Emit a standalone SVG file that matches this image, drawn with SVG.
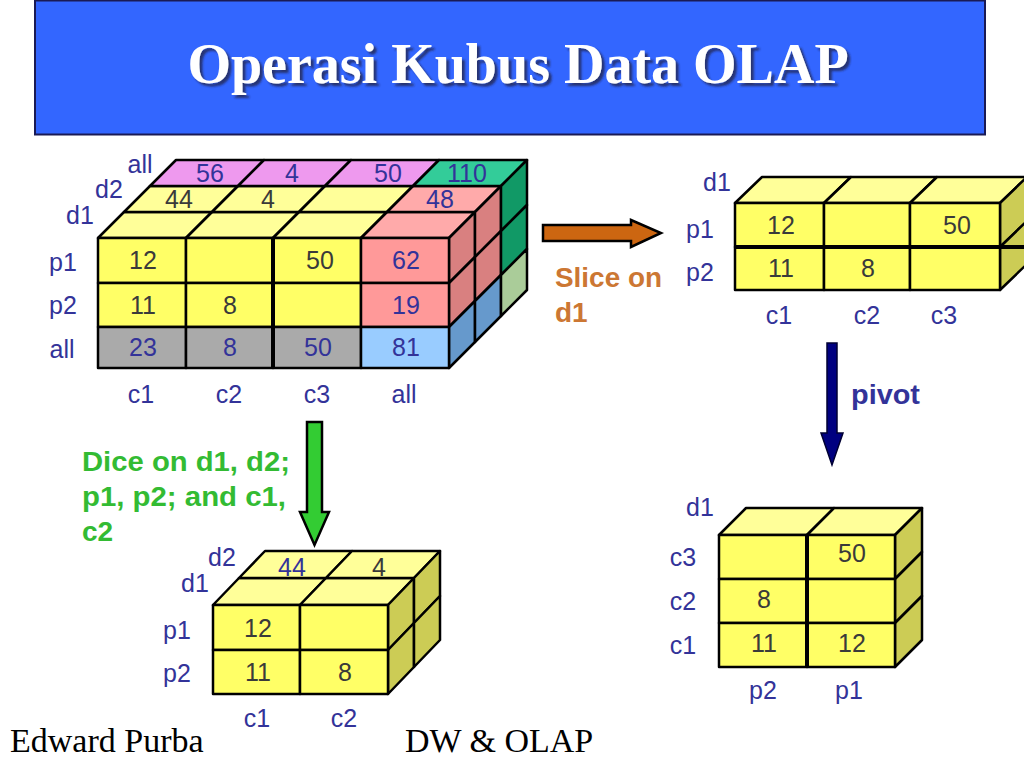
<svg xmlns="http://www.w3.org/2000/svg" width="1024" height="768" viewBox="0 0 1024 768">
<defs>
<filter id="sh" x="-5%" y="-20%" width="110%" height="150%">
<feDropShadow dx="3" dy="3" stdDeviation="1" flood-color="#222244" flood-opacity="0.75"/>
</filter>
</defs>
<style>
.f{stroke:#000;stroke-width:2.5;stroke-linejoin:round}
.y{fill:#FFFF66}.yt{fill:#FFFF99}.ys{fill:#CCCC55}
.sa{fill:#FF9999}.sat{fill:#FFAAAA}.sas{fill:#D98080}
.pk{fill:#EE99EE}.tl{fill:#33CC99}.tls{fill:#119966}
.gr{fill:#AAAAAA}.bl{fill:#99CCFF}.bls{fill:#6699CC}.lg{fill:#AACC99}
.lbl{font-family:"Liberation Sans",Arial,sans-serif;font-size:25px;fill:#333399;text-anchor:middle}
.num{font-family:"Liberation Sans",Arial,sans-serif;font-size:25px;fill:#3a3a3a;text-anchor:middle}
.nb{fill:#333399}
.op{font-family:"Liberation Sans",Arial,sans-serif;font-size:28px;font-weight:bold}
.ft{font-family:"Liberation Serif","Times New Roman",serif;font-size:34px;fill:#000}
</style>
<rect width="1024" height="768" fill="#FFFFFF"/>
<g id="title">
<rect x="35" y="0.5" width="950" height="134" fill="#3366FF" stroke="#1a1a55" stroke-width="2"/>
<text x="518" y="83" font-family="Liberation Serif,'Times New Roman',serif" font-size="56" font-weight="bold" fill="#FFFFFF" text-anchor="middle" filter="url(#sh)">Operasi Kubus Data OLAP</text>
</g>
<g id="cube-main">
<polygon class="f yt" points="98,238 186,238 212,212 124,212"/>
<polygon class="f yt" points="186,238 273,238 299,212 212,212"/>
<polygon class="f yt" points="273,238 361,238 387,212 299,212"/>
<polygon class="f sat" points="361,238 449,238 475,212 387,212"/>
<polygon class="f yt" points="124,212 212,212 238,186 150,186"/>
<polygon class="f yt" points="212,212 299,212 325,186 238,186"/>
<polygon class="f yt" points="299,212 387,212 413,186 325,186"/>
<polygon class="f sat" points="387,212 475,212 501,186 413,186"/>
<polygon class="f pk" points="150,186 238,186 264,160 176,160"/>
<polygon class="f pk" points="238,186 325,186 351,160 264,160"/>
<polygon class="f pk" points="325,186 413,186 439,160 351,160"/>
<polygon class="f tl" points="413,186 501,186 527,160 439,160"/>
<polygon class="f sas" points="449,238 475,212 475,257 449,283"/>
<polygon class="f sas" points="449,283 475,257 475,301 449,327"/>
<polygon class="f bls" points="449,327 475,301 475,342 449,368"/>
<polygon class="f sas" points="475,212 501,186 501,231 475,257"/>
<polygon class="f sas" points="475,257 501,231 501,275 475,301"/>
<polygon class="f bls" points="475,301 501,275 501,316 475,342"/>
<polygon class="f tls" points="501,186 527,160 527,205 501,231"/>
<polygon class="f tls" points="501,231 527,205 527,249 501,275"/>
<polygon class="f lg" points="501,275 527,249 527,290 501,316"/>
<rect class="f y" x="98" y="238" width="88" height="45"/>
<rect class="f y" x="186" y="238" width="87" height="45"/>
<rect class="f y" x="273" y="238" width="88" height="45"/>
<rect class="f sa" x="361" y="238" width="88" height="45"/>
<rect class="f y" x="98" y="283" width="88" height="44"/>
<rect class="f y" x="186" y="283" width="87" height="44"/>
<rect class="f y" x="273" y="283" width="88" height="44"/>
<rect class="f sa" x="361" y="283" width="88" height="44"/>
<rect class="f gr" x="98" y="327" width="88" height="41"/>
<rect class="f gr" x="186" y="327" width="87" height="41"/>
<rect class="f gr" x="273" y="327" width="88" height="41"/>
<rect class="f bl" x="361" y="327" width="88" height="41"/>
<line x1="273" y1="238" x2="273" y2="368" stroke="#000" stroke-width="4"/>
<text class="num" x="179" y="208">44</text>
<text class="num" x="268" y="208">4</text>
<text class="num nb" x="440" y="208">48</text>
<text class="num nb" x="210" y="182">56</text>
<text class="num nb" x="292" y="182">4</text>
<text class="num nb" x="388" y="182">50</text>
<text class="num nb" x="467" y="182">110</text>
<text class="num" x="143" y="269">12</text>
<text class="num" x="320" y="269">50</text>
<text class="num nb" x="406" y="269">62</text>
<text class="num" x="143" y="314">11</text>
<text class="num" x="230" y="314">8</text>
<text class="num nb" x="406" y="314">19</text>
<text class="num nb" x="143" y="356">23</text>
<text class="num nb" x="230" y="356">8</text>
<text class="num nb" x="318" y="356">50</text>
<text class="num nb" x="406" y="356">81</text>
<text class="lbl" x="140" y="173">all</text>
<text class="lbl" x="109" y="198">d2</text>
<text class="lbl" x="80" y="224">d1</text>
<text class="lbl" x="63" y="271">p1</text>
<text class="lbl" x="63" y="314">p2</text>
<text class="lbl" x="62" y="358">all</text>
<text class="lbl" x="141" y="403">c1</text>
<text class="lbl" x="229" y="403">c2</text>
<text class="lbl" x="317" y="403">c3</text>
<text class="lbl" x="404" y="403">all</text>
</g>
<g id="cube-slice">
<polygon class="f yt" points="735,203 824,203 851,177 762,177"/>
<polygon class="f yt" points="824,203 910,203 937,177 851,177"/>
<polygon class="f yt" points="910,203 1000,203 1027,177 937,177"/>
<polygon class="f ys" points="1000,203 1027,177 1027,221 1000,247"/>
<polygon class="f ys" points="1000,247 1027,221 1027,264 1000,290"/>
<rect class="f y" x="735" y="203" width="89" height="44"/>
<rect class="f y" x="824" y="203" width="86" height="44"/>
<rect class="f y" x="910" y="203" width="90" height="44"/>
<rect class="f y" x="735" y="247" width="89" height="43"/>
<rect class="f y" x="824" y="247" width="86" height="43"/>
<rect class="f y" x="910" y="247" width="90" height="43"/>
<line x1="735" y1="247" x2="1027" y2="247" stroke="#000" stroke-width="4"/>
<text class="num" x="781" y="234">12</text>
<text class="num" x="957" y="234">50</text>
<text class="num" x="781" y="277">11</text>
<text class="num" x="868" y="277">8</text>
<text class="lbl" x="717" y="191">d1</text>
<text class="lbl" x="700" y="238">p1</text>
<text class="lbl" x="700" y="281">p2</text>
<text class="lbl" x="779" y="324">c1</text>
<text class="lbl" x="867" y="324">c2</text>
<text class="lbl" x="944" y="324">c3</text>
</g>
<g id="cube-dice">
<polygon class="f yt" points="213,605 300,605 326,578 239,578"/>
<polygon class="f yt" points="300,605 388,605 414,578 326,578"/>
<polygon class="f yt" points="239,578 326,578 352,551 265,551"/>
<polygon class="f yt" points="326,578 414,578 440,551 352,551"/>
<polygon class="f ys" points="388,605 414,578 414,623 388,650"/>
<polygon class="f ys" points="388,650 414,623 414,667 388,694"/>
<polygon class="f ys" points="414,578 440,551 440,596 414,623"/>
<polygon class="f ys" points="414,623 440,596 440,640 414,667"/>
<rect class="f y" x="213" y="605" width="87" height="45"/>
<rect class="f y" x="300" y="605" width="88" height="45"/>
<rect class="f y" x="213" y="650" width="87" height="44"/>
<rect class="f y" x="300" y="650" width="88" height="44"/>
<text class="num nb" x="292" y="576">44</text>
<text class="num" x="379" y="576">4</text>
<text class="num" x="258" y="637">12</text>
<text class="num" x="258" y="681">11</text>
<text class="num" x="345" y="681">8</text>
<text class="lbl" x="222" y="566">d2</text>
<text class="lbl" x="195" y="592">d1</text>
<text class="lbl" x="177" y="639">p1</text>
<text class="lbl" x="177" y="682">p2</text>
<text class="lbl" x="257" y="727">c1</text>
<text class="lbl" x="344" y="727">c2</text>
</g>
<g id="cube-pivot">
<polygon class="f yt" points="719,535 807,535 834,508 746,508"/>
<polygon class="f yt" points="807,535 895,535 922,508 834,508"/>
<polygon class="f ys" points="895,535 922,508 922,552 895,579"/>
<polygon class="f ys" points="895,579 922,552 922,596 895,623"/>
<polygon class="f ys" points="895,623 922,596 922,640 895,667"/>
<rect class="f y" x="719" y="535" width="88" height="44"/>
<rect class="f y" x="807" y="535" width="88" height="44"/>
<rect class="f y" x="719" y="579" width="88" height="44"/>
<rect class="f y" x="807" y="579" width="88" height="44"/>
<rect class="f y" x="719" y="623" width="88" height="44"/>
<rect class="f y" x="807" y="623" width="88" height="44"/>
<line x1="807" y1="535" x2="807" y2="667" stroke="#000" stroke-width="4"/>
<text class="num" x="852" y="562">50</text>
<text class="num" x="764" y="608">8</text>
<text class="num" x="764" y="652">11</text>
<text class="num" x="852" y="652">12</text>
<text class="lbl" x="700" y="516">d1</text>
<text class="lbl" x="683" y="566">c3</text>
<text class="lbl" x="683" y="610">c2</text>
<text class="lbl" x="683" y="654">c1</text>
<text class="lbl" x="763" y="699">p2</text>
<text class="lbl" x="849" y="699">p1</text>
</g>
<g id="connectors">
<polygon points="543,225 631,225 631,220 661,233 631,247 631,241 543,241" fill="#CC6611" stroke="#000" stroke-width="2.5" stroke-linejoin="miter"/>
<polygon points="827,343 837,343 837,433 843,433 832,465 821,433 827,433" fill="#000080" stroke="#000033" stroke-width="1.5"/>
<polygon points="307,422 322,422 322,512 329,512 314.5,545 300,512 307,512" fill="#33CC33" stroke="#000" stroke-width="2.5"/>
</g>
<g id="labels">
<text class="op" x="555" y="287" fill="#CC7733" textLength="107" lengthAdjust="spacingAndGlyphs">Slice on</text>
<text class="op" x="555" y="322" fill="#CC7733">d1</text>
<text class="op" x="851" y="404" fill="#333399" textLength="69" lengthAdjust="spacingAndGlyphs">pivot</text>
<text class="op" x="82" y="471" fill="#33BB33" textLength="208" lengthAdjust="spacingAndGlyphs">Dice on d1, d2;</text>
<text class="op" x="82" y="506" fill="#33BB33" textLength="204" lengthAdjust="spacingAndGlyphs">p1, p2; and c1,</text>
<text class="op" x="82" y="541" fill="#33BB33">c2</text>
</g>
<g id="footer">
<text class="ft" x="10" y="752">Edward Purba</text>
<text class="ft" x="405" y="752">DW &amp; OLAP</text>
</g>
</svg>
